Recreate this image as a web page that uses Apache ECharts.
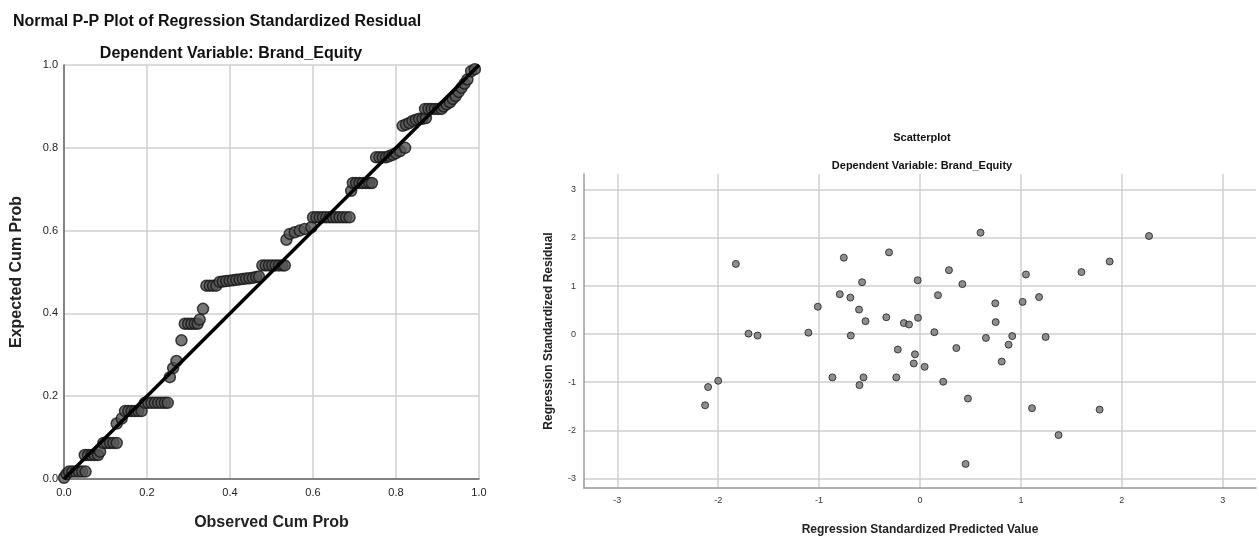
<!DOCTYPE html>
<html>
<head>
<meta charset="utf-8">
<script src="https://cdn.jsdelivr.net/npm/echarts@6/dist/echarts.min.js"></script>
<style>
html,body{margin:0;padding:0;background:#fff;}
#chart{width:1259px;height:541px;}
</style>
</head>
<body>
<div id="chart"></div>
<script>
// ---- P-P plot data (Observed Cum Prob, Expected Cum Prob) ----
var ppObserved = [
  0.000, 0.006, 0.012, 0.020, 0.028, 0.036, 0.044, 0.052,
  0.050, 0.058, 0.066, 0.074, 0.082, 0.087,
  0.095, 0.103, 0.111, 0.119, 0.127,
  0.127, 0.139,
  0.147, 0.155, 0.163, 0.171, 0.179, 0.187,
  0.195, 0.203, 0.211, 0.219, 0.227, 0.235, 0.243, 0.250,
  0.255, 0.263, 0.271, 0.283,
  0.291, 0.299, 0.307, 0.315, 0.322, 0.327, 0.335,
  0.343, 0.351, 0.359, 0.367,
  0.375, 0.383, 0.391, 0.399, 0.407, 0.415, 0.423, 0.431, 0.439, 0.447, 0.455, 0.463, 0.470,
  0.478, 0.486, 0.494, 0.502, 0.510, 0.518, 0.526, 0.532,
  0.536, 0.544, 0.556, 0.568, 0.580, 0.596,
  0.600, 0.608, 0.616, 0.624, 0.632, 0.640, 0.648, 0.656, 0.664, 0.672, 0.680, 0.688,
  0.692,
  0.696, 0.704, 0.712, 0.720, 0.728, 0.736, 0.742,
  0.752, 0.760, 0.768, 0.776, 0.784, 0.792, 0.800, 0.810, 0.822,
  0.816, 0.824, 0.832, 0.840, 0.848, 0.856, 0.864, 0.872,
  0.870, 0.878, 0.886, 0.894, 0.902, 0.910,
  0.915, 0.922, 0.930, 0.937, 0.944, 0.951, 0.958, 0.965, 0.972, 0.981, 0.990
];
var ppExpected = [
  0.003, 0.012, 0.018, 0.018, 0.018, 0.018, 0.018, 0.018,
  0.058, 0.058, 0.058, 0.058, 0.058, 0.066,
  0.087, 0.087, 0.087, 0.087, 0.087,
  0.134, 0.146,
  0.164, 0.164, 0.164, 0.164, 0.164, 0.164,
  0.184, 0.184, 0.184, 0.184, 0.184, 0.184, 0.184, 0.184,
  0.246, 0.268, 0.285, 0.335,
  0.375, 0.375, 0.375, 0.375, 0.375, 0.385, 0.411,
  0.467, 0.467, 0.467, 0.467,
  0.476, 0.477, 0.478, 0.479, 0.480, 0.481, 0.482, 0.483, 0.484, 0.485, 0.486, 0.488, 0.489,
  0.516, 0.516, 0.516, 0.516, 0.516, 0.516, 0.516, 0.516,
  0.578, 0.592, 0.596, 0.600, 0.604, 0.608,
  0.632, 0.632, 0.632, 0.632, 0.632, 0.632, 0.632, 0.632, 0.632, 0.632, 0.632, 0.632,
  0.696,
  0.715, 0.715, 0.715, 0.715, 0.715, 0.715, 0.715,
  0.777, 0.777, 0.777, 0.777, 0.780, 0.783, 0.787, 0.792, 0.800,
  0.853, 0.856, 0.860, 0.865, 0.868, 0.870, 0.870, 0.872,
  0.894, 0.894, 0.894, 0.894, 0.894, 0.894,
  0.900, 0.905, 0.910, 0.918, 0.925, 0.935, 0.945, 0.955, 0.965, 0.985, 0.990
];
var ppLineX = [0, 1];
var ppLineY = [0, 1];

// ---- Scatterplot data ----
var predicted = [
  -1.825, -1.70, -1.61, -2.00, -2.10, -2.13, -1.106, -1.013, -0.755, -0.795,
  -0.69, -0.574, -0.604, -0.54, -0.686, -0.307, -0.334, -0.16, -0.109, -0.023,
  -0.02, -0.22, -0.05, -0.062, -0.868, -0.56, -0.60, -0.235, 0.60, 2.27,
  1.88, 1.60, 1.05, 0.287, 0.42, 0.178, 0.746, 1.017, 1.18, 0.75,
  0.142, 0.653, 0.914, 1.245, 0.878, 0.36, 0.81, 0.046, 0.23, 0.475,
  1.11, 1.78, 1.373, 0.452
];
var residual = [
  1.46, 0.01, -0.03, -0.97, -1.10, -1.48, 0.03, 0.57, 1.59, 0.83,
  0.76, 1.08, 0.51, 0.27, -0.03, 1.70, 0.35, 0.23, 0.20, 1.12,
  0.34, -0.32, -0.42, -0.61, -0.90, -0.90, -1.06, -0.90, 2.11, 2.04,
  1.51, 1.29, 1.24, 1.33, 1.04, 0.81, 0.64, 0.67, 0.77, 0.25,
  0.04, -0.08, -0.04, -0.06, -0.22, -0.29, -0.57, -0.68, -0.99, -1.34,
  -1.54, -1.57, -2.10, -2.70
];
var scTicks = [-3, -2, -1, 0, 1, 2, 3];

var FONT = 'Liberation Sans, Arial, sans-serif';

function zip(a, b) { var r = []; for (var i = 0; i < a.length; i++) r.push([a[i], b[i]]); return r; }

var chart = echarts.init(document.getElementById('chart'), null, {renderer: 'canvas'});

var gridLineStyle = {color: '#cfcfcf', width: 1.5};

var option = {
  animation: false,
  backgroundColor: '#ffffff',
  title: [
    {text: 'Normal P-P Plot of Regression Standardized Residual', left: 8, top: 9,
     textStyle: {fontFamily: FONT, fontSize: 16, fontWeight: 'bold', color: '#111'}},
    {text: 'Dependent Variable: Brand_Equity', left: 226, top: 41, textAlign: 'center',
     textStyle: {fontFamily: FONT, fontSize: 16, fontWeight: 'bold', color: '#111'}},
    {text: 'Scatterplot', left: 917, top: 127, textAlign: 'center',
     textStyle: {fontFamily: FONT, fontSize: 11, fontWeight: 'bold', color: '#111'}},
    {text: 'Dependent Variable: Brand_Equity', left: 917, top: 155, textAlign: 'center',
     textStyle: {fontFamily: FONT, fontSize: 11, fontWeight: 'bold', color: '#111'}}
  ],
  grid: [
    {left: 64, top: 65, width: 415, height: 414},
    {left: 584, top: 174, width: 672, height: 315}
  ],
  xAxis: [
    {gridIndex: 0, type: 'value', min: 0, max: 1, interval: 0.2,
     name: 'Observed Cum Prob', nameLocation: 'middle', nameGap: 36,
     nameTextStyle: {fontFamily: FONT, fontSize: 16, fontWeight: 'bold', color: '#222'},
     axisLine: {show: true, lineStyle: {color: '#666', width: 1.5}},
     axisTick: {show: false},
     axisLabel: {fontFamily: FONT, fontSize: 11, color: '#222', margin: 8,
                 formatter: function (v) { return v.toFixed(1); }},
     splitLine: {show: true, lineStyle: gridLineStyle}},
    {gridIndex: 1, type: 'value', min: -3.33, max: 3.33,
     name: 'Regression Standardized Predicted Value', nameLocation: 'middle', nameGap: 36,
     nameTextStyle: {fontFamily: FONT, fontSize: 12, fontWeight: 'bold', color: '#222'},
     axisLine: {show: true, onZero: false, lineStyle: {color: '#999', width: 1.5}},
     axisTick: {show: false, customValues: scTicks},
     axisLabel: {fontFamily: FONT, fontSize: 9, color: '#333', margin: 8, customValues: scTicks},
     splitLine: {show: true, lineStyle: gridLineStyle}}
  ],
  yAxis: [
    {gridIndex: 0, type: 'value', min: 0, max: 1, interval: 0.2,
     name: 'Expected Cum Prob', nameLocation: 'middle', nameGap: 39,
     nameTextStyle: {fontFamily: FONT, fontSize: 16, fontWeight: 'bold', color: '#222'},
     axisLine: {show: true, lineStyle: {color: '#666', width: 1.5}},
     axisTick: {show: false},
     axisLabel: {fontFamily: FONT, fontSize: 11, color: '#222', margin: 6,
                 formatter: function (v) { return v.toFixed(1); }},
     splitLine: {show: true, lineStyle: gridLineStyle}},
    {gridIndex: 1, type: 'value', min: -3.2, max: 3.33,
     name: 'Regression Standardized Residual', nameLocation: 'middle', nameGap: 29,
     nameTextStyle: {fontFamily: FONT, fontSize: 12, fontWeight: 'bold', color: '#222'},
     axisLine: {show: true, onZero: false, lineStyle: {color: '#999', width: 1.5}},
     axisTick: {show: false, customValues: scTicks},
     axisLabel: {fontFamily: FONT, fontSize: 9, color: '#333', margin: 8, customValues: scTicks},
     splitLine: {show: true, lineStyle: gridLineStyle}}
  ],
  series: [
    {type: 'line', xAxisIndex: 0, yAxisIndex: 0, data: zip(ppLineX, ppLineY),
     symbol: 'none', lineStyle: {color: '#000', width: 3.5}, z: 3},
    {type: 'scatter', xAxisIndex: 0, yAxisIndex: 0, data: zip(ppObserved, ppExpected),
     symbolSize: 11, itemStyle: {color: '#555555', borderColor: '#161616', borderWidth: 1.5}, z: 2},
    {type: 'scatter', xAxisIndex: 1, yAxisIndex: 1, data: zip(predicted, residual),
     symbolSize: 7, itemStyle: {color: '#727272', borderColor: '#1e1e1e', borderWidth: 1}, z: 2}
  ]
};
chart.setOption(option);
</script>
</body>
</html>
